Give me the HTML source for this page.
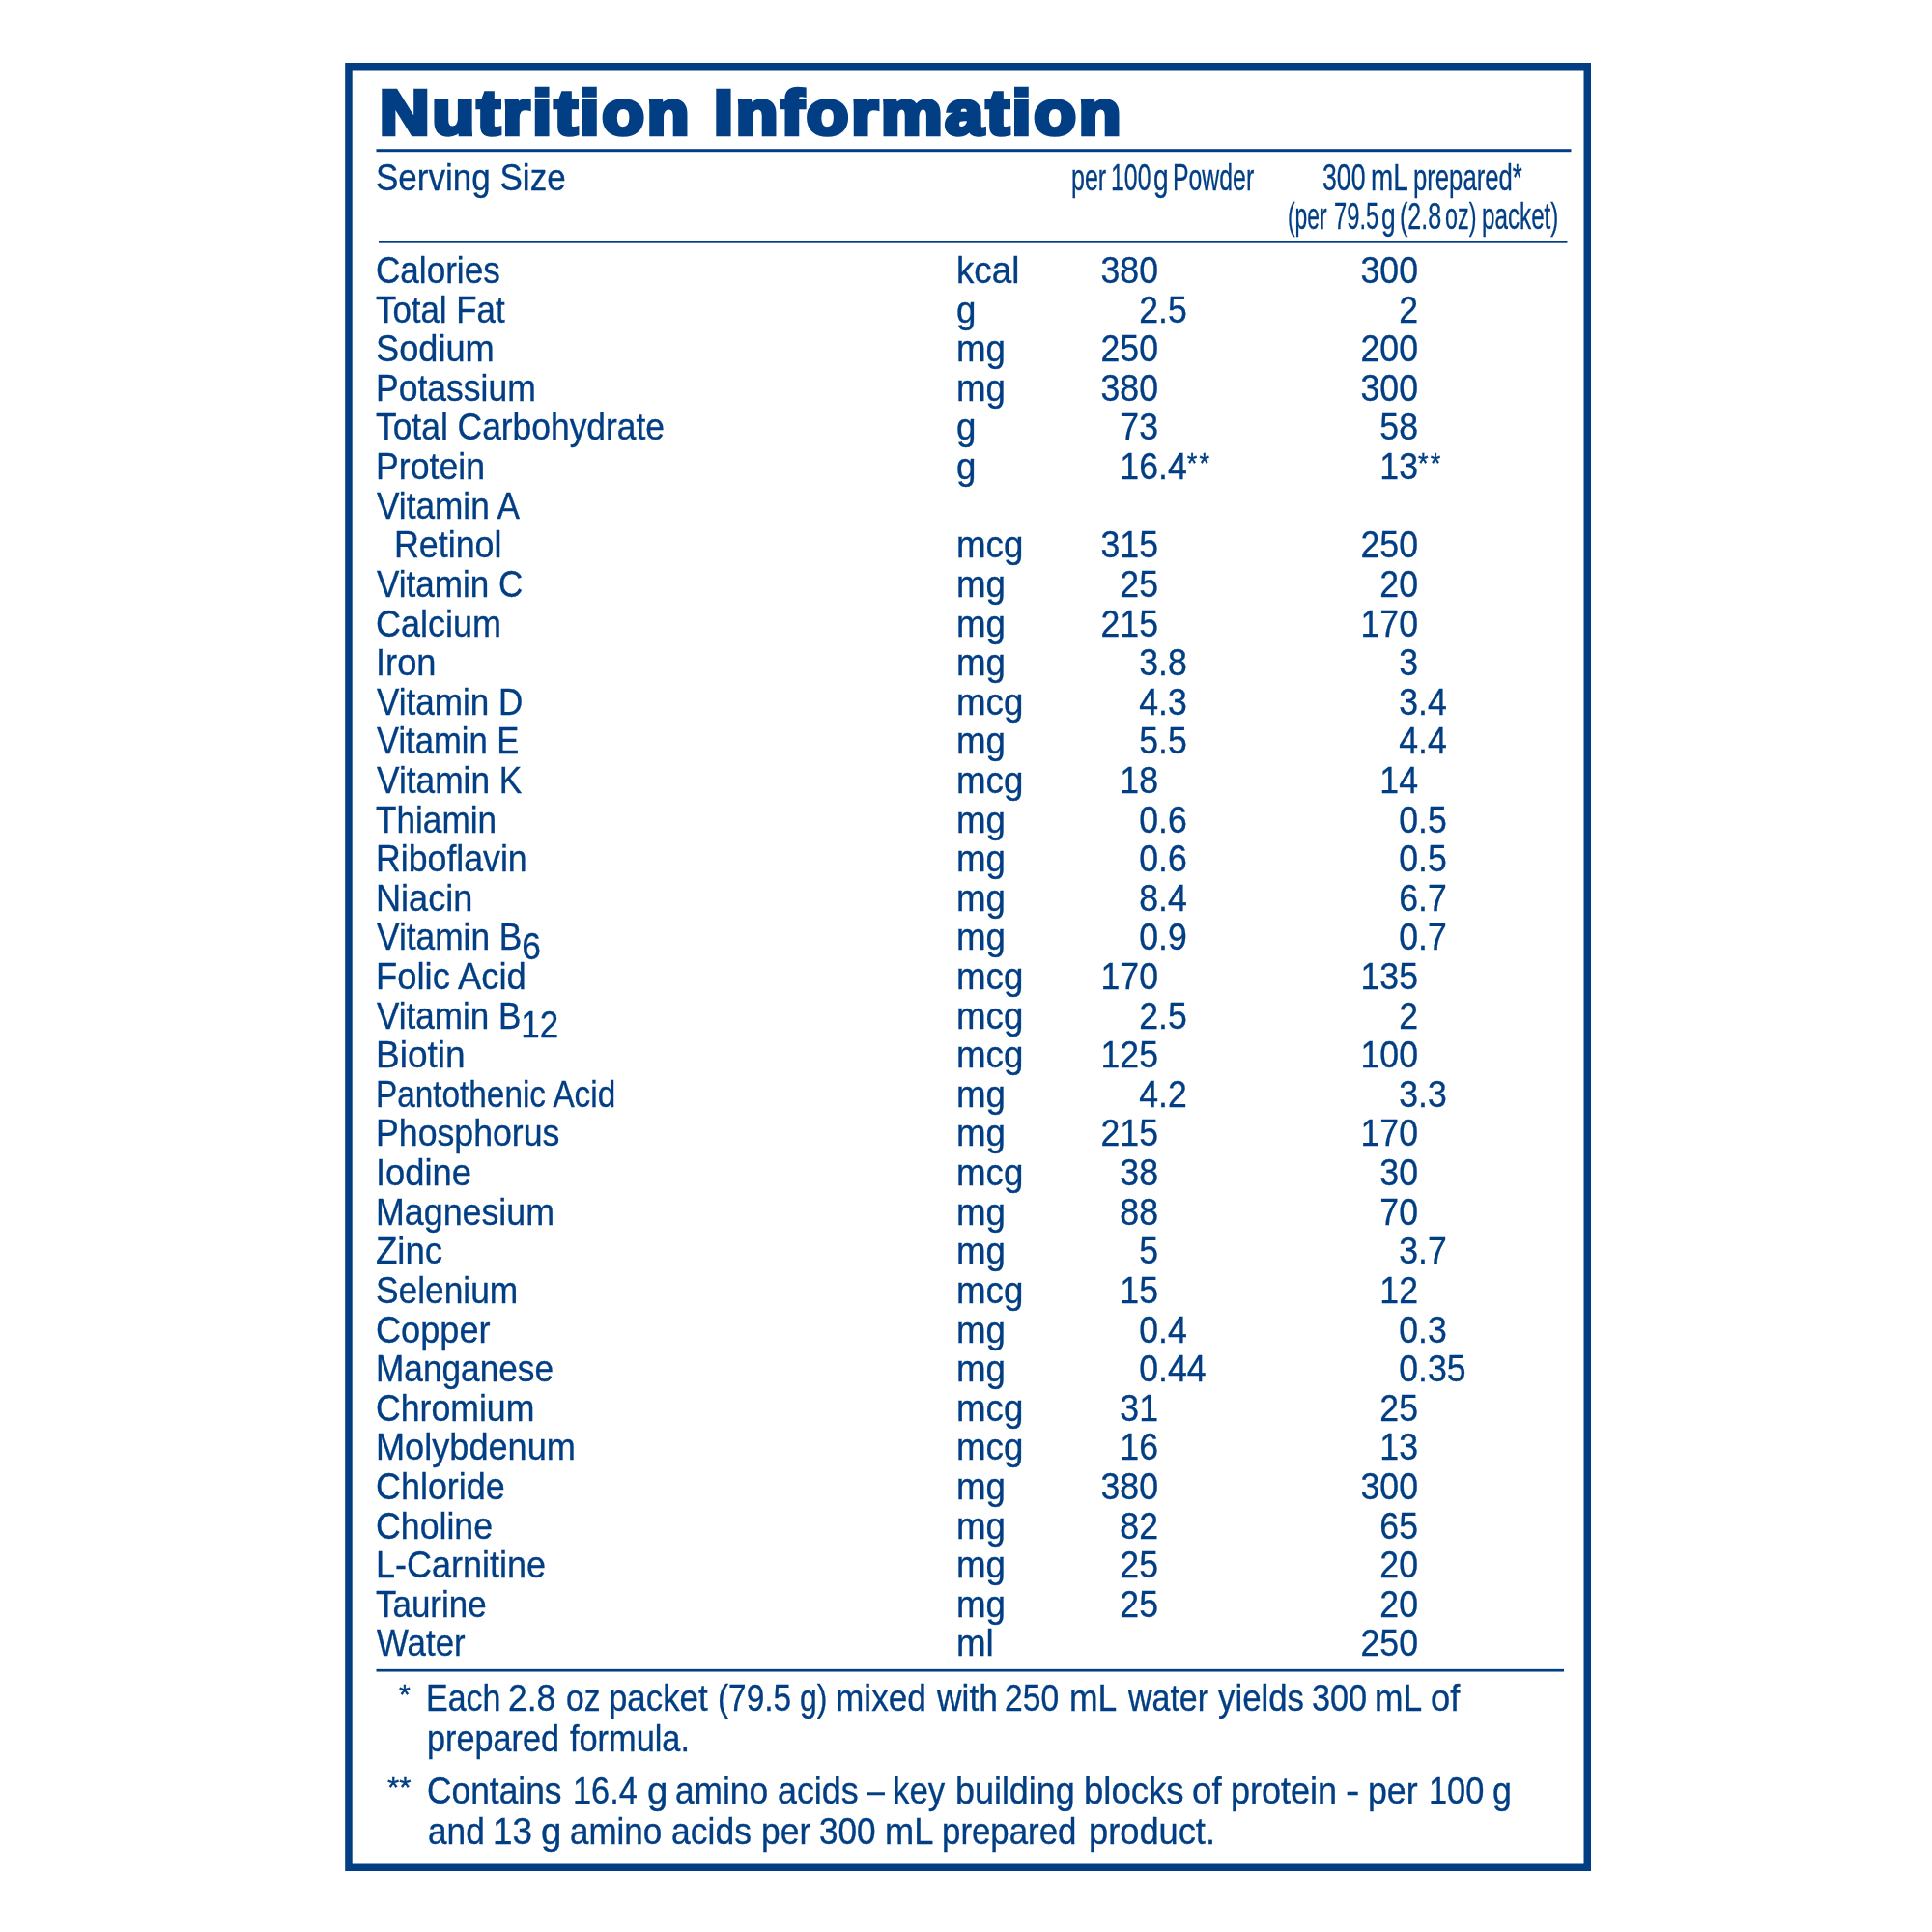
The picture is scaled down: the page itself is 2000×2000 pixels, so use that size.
<!DOCTYPE html>
<html><head><meta charset="utf-8"><title>Nutrition Information</title>
<style>
html,body{margin:0;padding:0;background:#fff}
body{width:2000px;height:2000px;position:relative;overflow:hidden;font-family:"Liberation Sans",sans-serif;color:#023e84}
.wr{position:absolute;left:0;top:0;width:2000px;height:2000px;will-change:transform}
.t,.n{position:absolute;white-space:nowrap;font-size:39.6px;line-height:40px;transform-origin:0 0;-webkit-text-stroke:0.35px #023e84}
.n{width:0;transform:scaleX(0.9)}
.n .i{position:absolute;right:0;top:0}
.n .r{position:absolute;left:0;top:0}
.sb{position:relative;top:9.3px}
.as{font-size:30.2px;position:relative;top:-6.5px}
.n .as{top:-7.5px;letter-spacing:2.5px}
.u{transform:scaleX(0.928)}
.h{font-size:39.6px}
.f{font-size:38.5px}
.ti{position:absolute;white-space:nowrap;font-weight:bold;font-size:65px;line-height:40px;transform-origin:0 0;transform:scaleX(1.1);-webkit-text-stroke:4.5px #023e84;letter-spacing:2.57px}
</style></head><body>
<svg width="2000" height="2000" style="position:absolute;left:0;top:0">
<rect x="360.95" y="68.75" width="1282.3" height="1864.5" fill="none" stroke="#023e84" stroke-width="7.5"/>
<rect x="389.5" y="154.2" width="1237.0" height="3" fill="#023e84"/>
<rect x="392" y="249.1" width="1230.5" height="2.6" fill="#023e84"/>
<rect x="389.5" y="1727.8500000000001" width="1229.5" height="2.7" fill="#023e84"/>
</svg>
<div class="wr">
<div class="ti" style="left:393px;top:97.2px">Nutrition Information</div>
<div class="t" style="left:389px;top:163.0px;transform:scaleX(0.885)">Serving Size</div>
<div class="t h w0" style="left:1108.96px;top:163.0px;transform:scaleX(0.6321)">per</div>
<div class="t h w1" style="left:1150.02px;top:163.0px;transform:scaleX(0.6277)">100</div>
<div class="t h w0" style="left:1193.97px;top:163.0px;transform:scaleX(0.7102)">g</div>
<div class="t h w1" style="left:1213.97px;top:163.0px;transform:scaleX(0.6273)">Powder</div>
<div class="t h w0" style="left:1368.92px;top:163.0px;transform:scaleX(0.6733)">300</div>
<div class="t h w1" style="left:1418.72px;top:163.0px;transform:scaleX(0.7041)">mL</div>
<div class="t h w0" style="left:1462.97px;top:163.0px;transform:scaleX(0.6489)">prepared*</div>
<div class="t h w1" style="left:1333.1px;top:203.2px;transform:scaleX(0.5758)">(per</div>
<div class="t h w0" style="left:1381.02px;top:203.2px;transform:scaleX(0.5999)">79.5</div>
<div class="t h w1" style="left:1429.77px;top:203.2px;transform:scaleX(0.6658)">g</div>
<div class="t h w0" style="left:1448.96px;top:203.2px;transform:scaleX(0.6336)">(2.8</div>
<div class="t h w1" style="left:1496.08px;top:203.2px;transform:scaleX(0.5906)">oz)</div>
<div class="t h w0" style="left:1534.02px;top:203.2px;transform:scaleX(0.6116)">packet)</div>
<div class="t" style="left:389px;top:259.0px;transform:scaleX(0.8864)">Calories</div>
<div class="t u" style="left:990px;top:259.0px">kcal</div>
<div class="n" style="left:1199px;top:259.0px"><span class="i">380</span><span class="r"></span></div>
<div class="n" style="left:1467.5px;top:259.0px"><span class="i">300</span><span class="r"></span></div>
<div class="t" style="left:389px;top:299.6px;transform:scaleX(0.8801)">Total Fat</div>
<div class="t u" style="left:990px;top:299.6px">g</div>
<div class="n" style="left:1199px;top:299.6px"><span class="i">2</span><span class="r">.5</span></div>
<div class="n" style="left:1467.5px;top:299.6px"><span class="i">2</span><span class="r"></span></div>
<div class="t" style="left:389px;top:340.2px;transform:scaleX(0.9147)">Sodium</div>
<div class="t u" style="left:990px;top:340.2px">mg</div>
<div class="n" style="left:1199px;top:340.2px"><span class="i">250</span><span class="r"></span></div>
<div class="n" style="left:1467.5px;top:340.2px"><span class="i">200</span><span class="r"></span></div>
<div class="t" style="left:389px;top:380.8px;transform:scaleX(0.8976)">Potassium</div>
<div class="t u" style="left:990px;top:380.8px">mg</div>
<div class="n" style="left:1199px;top:380.8px"><span class="i">380</span><span class="r"></span></div>
<div class="n" style="left:1467.5px;top:380.8px"><span class="i">300</span><span class="r"></span></div>
<div class="t" style="left:389px;top:421.4px;transform:scaleX(0.8941)">Total Carbohydrate</div>
<div class="t u" style="left:990px;top:421.4px">g</div>
<div class="n" style="left:1199px;top:421.4px"><span class="i">73</span><span class="r"></span></div>
<div class="n" style="left:1467.5px;top:421.4px"><span class="i">58</span><span class="r"></span></div>
<div class="t" style="left:389px;top:462.1px;transform:scaleX(0.9017)">Protein</div>
<div class="t u" style="left:990px;top:462.1px">g</div>
<div class="n" style="left:1199px;top:462.1px"><span class="i">16</span><span class="r">.4<span class=as>**</span></span></div>
<div class="n" style="left:1467.5px;top:462.1px"><span class="i">13</span><span class="r"><span class=as>**</span></span></div>
<div class="t" style="left:390.3px;top:502.7px;transform:scaleX(0.8892)">Vitamin A</div>
<div class="t" style="left:408px;top:543.3px;transform:scaleX(0.9048)">Retinol</div>
<div class="t u" style="left:990px;top:543.3px">mcg</div>
<div class="n" style="left:1199px;top:543.3px"><span class="i">315</span><span class="r"></span></div>
<div class="n" style="left:1467.5px;top:543.3px"><span class="i">250</span><span class="r"></span></div>
<div class="t" style="left:390.3px;top:583.9px;transform:scaleX(0.8858)">Vitamin C</div>
<div class="t u" style="left:990px;top:583.9px">mg</div>
<div class="n" style="left:1199px;top:583.9px"><span class="i">25</span><span class="r"></span></div>
<div class="n" style="left:1467.5px;top:583.9px"><span class="i">20</span><span class="r"></span></div>
<div class="t" style="left:389px;top:624.5px;transform:scaleX(0.9091)">Calcium</div>
<div class="t u" style="left:990px;top:624.5px">mg</div>
<div class="n" style="left:1199px;top:624.5px"><span class="i">215</span><span class="r"></span></div>
<div class="n" style="left:1467.5px;top:624.5px"><span class="i">170</span><span class="r"></span></div>
<div class="t" style="left:389px;top:665.1px;transform:scaleX(0.9172)">Iron</div>
<div class="t u" style="left:990px;top:665.1px">mg</div>
<div class="n" style="left:1199px;top:665.1px"><span class="i">3</span><span class="r">.8</span></div>
<div class="n" style="left:1467.5px;top:665.1px"><span class="i">3</span><span class="r"></span></div>
<div class="t" style="left:390.3px;top:705.7px;transform:scaleX(0.8858)">Vitamin D</div>
<div class="t u" style="left:990px;top:705.7px">mcg</div>
<div class="n" style="left:1199px;top:705.7px"><span class="i">4</span><span class="r">.3</span></div>
<div class="n" style="left:1467.5px;top:705.7px"><span class="i">3</span><span class="r">.4</span></div>
<div class="t" style="left:390.3px;top:746.3px;transform:scaleX(0.8736)">Vitamin E</div>
<div class="t u" style="left:990px;top:746.3px">mg</div>
<div class="n" style="left:1199px;top:746.3px"><span class="i">5</span><span class="r">.5</span></div>
<div class="n" style="left:1467.5px;top:746.3px"><span class="i">4</span><span class="r">.4</span></div>
<div class="t" style="left:390.3px;top:786.9px;transform:scaleX(0.8915)">Vitamin K</div>
<div class="t u" style="left:990px;top:786.9px">mcg</div>
<div class="n" style="left:1199px;top:786.9px"><span class="i">18</span><span class="r"></span></div>
<div class="n" style="left:1467.5px;top:786.9px"><span class="i">14</span><span class="r"></span></div>
<div class="t" style="left:389px;top:827.5px;transform:scaleX(0.8882)">Thiamin</div>
<div class="t u" style="left:990px;top:827.5px">mg</div>
<div class="n" style="left:1199px;top:827.5px"><span class="i">0</span><span class="r">.6</span></div>
<div class="n" style="left:1467.5px;top:827.5px"><span class="i">0</span><span class="r">.5</span></div>
<div class="t" style="left:389px;top:868.1px;transform:scaleX(0.9017)">Riboflavin</div>
<div class="t u" style="left:990px;top:868.1px">mg</div>
<div class="n" style="left:1199px;top:868.1px"><span class="i">0</span><span class="r">.6</span></div>
<div class="n" style="left:1467.5px;top:868.1px"><span class="i">0</span><span class="r">.5</span></div>
<div class="t" style="left:389px;top:908.8px;transform:scaleX(0.9121)">Niacin</div>
<div class="t u" style="left:990px;top:908.8px">mg</div>
<div class="n" style="left:1199px;top:908.8px"><span class="i">8</span><span class="r">.4</span></div>
<div class="n" style="left:1467.5px;top:908.8px"><span class="i">6</span><span class="r">.7</span></div>
<div class="t" style="left:390.3px;top:949.4px;transform:scaleX(0.8916)">Vitamin B<span class=sb>6</span></div>
<div class="t u" style="left:990px;top:949.4px">mg</div>
<div class="n" style="left:1199px;top:949.4px"><span class="i">0</span><span class="r">.9</span></div>
<div class="n" style="left:1467.5px;top:949.4px"><span class="i">0</span><span class="r">.7</span></div>
<div class="t" style="left:389px;top:990.0px;transform:scaleX(0.9193)">Folic Acid</div>
<div class="t u" style="left:990px;top:990.0px">mcg</div>
<div class="n" style="left:1199px;top:990.0px"><span class="i">170</span><span class="r"></span></div>
<div class="n" style="left:1467.5px;top:990.0px"><span class="i">135</span><span class="r"></span></div>
<div class="t" style="left:390.3px;top:1030.6px;transform:scaleX(0.8850)">Vitamin B<span class=sb>12</span></div>
<div class="t u" style="left:990px;top:1030.6px">mcg</div>
<div class="n" style="left:1199px;top:1030.6px"><span class="i">2</span><span class="r">.5</span></div>
<div class="n" style="left:1467.5px;top:1030.6px"><span class="i">2</span><span class="r"></span></div>
<div class="t" style="left:389px;top:1071.2px;transform:scaleX(0.9359)">Biotin</div>
<div class="t u" style="left:990px;top:1071.2px">mcg</div>
<div class="n" style="left:1199px;top:1071.2px"><span class="i">125</span><span class="r"></span></div>
<div class="n" style="left:1467.5px;top:1071.2px"><span class="i">100</span><span class="r"></span></div>
<div class="t" style="left:389px;top:1111.8px;transform:scaleX(0.8418)">Pantothenic Acid</div>
<div class="t u" style="left:990px;top:1111.8px">mg</div>
<div class="n" style="left:1199px;top:1111.8px"><span class="i">4</span><span class="r">.2</span></div>
<div class="n" style="left:1467.5px;top:1111.8px"><span class="i">3</span><span class="r">.3</span></div>
<div class="t" style="left:389px;top:1152.4px;transform:scaleX(0.9016)">Phosphorus</div>
<div class="t u" style="left:990px;top:1152.4px">mg</div>
<div class="n" style="left:1199px;top:1152.4px"><span class="i">215</span><span class="r"></span></div>
<div class="n" style="left:1467.5px;top:1152.4px"><span class="i">170</span><span class="r"></span></div>
<div class="t" style="left:389px;top:1193.0px;transform:scaleX(0.9180)">Iodine</div>
<div class="t u" style="left:990px;top:1193.0px">mcg</div>
<div class="n" style="left:1199px;top:1193.0px"><span class="i">38</span><span class="r"></span></div>
<div class="n" style="left:1467.5px;top:1193.0px"><span class="i">30</span><span class="r"></span></div>
<div class="t" style="left:389px;top:1233.6px;transform:scaleX(0.9046)">Magnesium</div>
<div class="t u" style="left:990px;top:1233.6px">mg</div>
<div class="n" style="left:1199px;top:1233.6px"><span class="i">88</span><span class="r"></span></div>
<div class="n" style="left:1467.5px;top:1233.6px"><span class="i">70</span><span class="r"></span></div>
<div class="t" style="left:389px;top:1274.2px;transform:scaleX(0.9253)">Zinc</div>
<div class="t u" style="left:990px;top:1274.2px">mg</div>
<div class="n" style="left:1199px;top:1274.2px"><span class="i">5</span><span class="r"></span></div>
<div class="n" style="left:1467.5px;top:1274.2px"><span class="i">3</span><span class="r">.7</span></div>
<div class="t" style="left:389px;top:1314.9px;transform:scaleX(0.8926)">Selenium</div>
<div class="t u" style="left:990px;top:1314.9px">mcg</div>
<div class="n" style="left:1199px;top:1314.9px"><span class="i">15</span><span class="r"></span></div>
<div class="n" style="left:1467.5px;top:1314.9px"><span class="i">12</span><span class="r"></span></div>
<div class="t" style="left:389px;top:1355.5px;transform:scaleX(0.9133)">Copper</div>
<div class="t u" style="left:990px;top:1355.5px">mg</div>
<div class="n" style="left:1199px;top:1355.5px"><span class="i">0</span><span class="r">.4</span></div>
<div class="n" style="left:1467.5px;top:1355.5px"><span class="i">0</span><span class="r">.3</span></div>
<div class="t" style="left:389px;top:1396.1px;transform:scaleX(0.8895)">Manganese</div>
<div class="t u" style="left:990px;top:1396.1px">mg</div>
<div class="n" style="left:1199px;top:1396.1px"><span class="i">0</span><span class="r">.44</span></div>
<div class="n" style="left:1467.5px;top:1396.1px"><span class="i">0</span><span class="r">.35</span></div>
<div class="t" style="left:389px;top:1436.7px;transform:scaleX(0.9004)">Chromium</div>
<div class="t u" style="left:990px;top:1436.7px">mcg</div>
<div class="n" style="left:1199px;top:1436.7px"><span class="i">31</span><span class="r"></span></div>
<div class="n" style="left:1467.5px;top:1436.7px"><span class="i">25</span><span class="r"></span></div>
<div class="t" style="left:389px;top:1477.3px;transform:scaleX(0.9132)">Molybdenum</div>
<div class="t u" style="left:990px;top:1477.3px">mcg</div>
<div class="n" style="left:1199px;top:1477.3px"><span class="i">16</span><span class="r"></span></div>
<div class="n" style="left:1467.5px;top:1477.3px"><span class="i">13</span><span class="r"></span></div>
<div class="t" style="left:389px;top:1517.9px;transform:scaleX(0.9073)">Chloride</div>
<div class="t u" style="left:990px;top:1517.9px">mg</div>
<div class="n" style="left:1199px;top:1517.9px"><span class="i">380</span><span class="r"></span></div>
<div class="n" style="left:1467.5px;top:1517.9px"><span class="i">300</span><span class="r"></span></div>
<div class="t" style="left:389px;top:1558.5px;transform:scaleX(0.9018)">Choline</div>
<div class="t u" style="left:990px;top:1558.5px">mg</div>
<div class="n" style="left:1199px;top:1558.5px"><span class="i">82</span><span class="r"></span></div>
<div class="n" style="left:1467.5px;top:1558.5px"><span class="i">65</span><span class="r"></span></div>
<div class="t" style="left:389px;top:1599.1px;transform:scaleX(0.9091)">L-Carnitine</div>
<div class="t u" style="left:990px;top:1599.1px">mg</div>
<div class="n" style="left:1199px;top:1599.1px"><span class="i">25</span><span class="r"></span></div>
<div class="n" style="left:1467.5px;top:1599.1px"><span class="i">20</span><span class="r"></span></div>
<div class="t" style="left:389px;top:1639.7px;transform:scaleX(0.8827)">Taurine</div>
<div class="t u" style="left:990px;top:1639.7px">mg</div>
<div class="n" style="left:1199px;top:1639.7px"><span class="i">25</span><span class="r"></span></div>
<div class="n" style="left:1467.5px;top:1639.7px"><span class="i">20</span><span class="r"></span></div>
<div class="t" style="left:390.3px;top:1680.3px;transform:scaleX(0.8803)">Water</div>
<div class="t u" style="left:990px;top:1680.3px">ml</div>
<div class="n" style="left:1467.5px;top:1680.3px"><span class="i">250</span><span class="r"></span></div>
<div class="t f w0" style="left:413.24px;top:1737.9px;transform:scaleX(1.0055)"><span class=as>*</span></div>
<div class="t f w1" style="left:400.98px;top:1833.5px;transform:scaleX(1.0455)"><span class=as>**</span></div>
<div class="t f w0" style="left:440.61px;top:1738.0px;transform:scaleX(0.8820)">Each</div>
<div class="t f w1" style="left:526.48px;top:1738.0px;transform:scaleX(0.9205)">2.8</div>
<div class="t f w0" style="left:585.53px;top:1738.0px;transform:scaleX(0.8718)">oz</div>
<div class="t f w1" style="left:629.53px;top:1738.0px;transform:scaleX(0.9046)">packet</div>
<div class="t f w0" style="left:742.57px;top:1738.0px;transform:scaleX(0.8669)">(79.5</div>
<div class="t f w1" style="left:827.62px;top:1738.0px;transform:scaleX(0.8288)">g)</div>
<div class="t f w0" style="left:865.48px;top:1738.0px;transform:scaleX(0.9143)">mixed</div>
<div class="t f w1" style="left:969.5px;top:1738.0px;transform:scaleX(0.9180)">with</div>
<div class="t f w0" style="left:1039.56px;top:1738.0px;transform:scaleX(0.8738)">250</div>
<div class="t f w1" style="left:1107.45px;top:1738.0px;transform:scaleX(0.9208)">mL</div>
<div class="t f w0" style="left:1167.51px;top:1738.0px;transform:scaleX(0.8820)">water</div>
<div class="t f w1" style="left:1260.5px;top:1738.0px;transform:scaleX(0.9040)">yields</div>
<div class="t f w0" style="left:1357.55px;top:1738.0px;transform:scaleX(0.8889)">300</div>
<div class="t f w1" style="left:1423.45px;top:1738.0px;transform:scaleX(0.9191)">mL</div>
<div class="t f w0" style="left:1481.41px;top:1738.0px;transform:scaleX(0.9421)">of</div>
<div class="t f w1" style="left:441.56px;top:1780.2px;transform:scaleX(0.8885)">prepared</div>
<div class="t f w0" style="left:589.5px;top:1780.2px;transform:scaleX(0.8915)">formula.</div>
<div class="t f w1" style="left:442.46px;top:1833.5px;transform:scaleX(0.9183)">Contains</div>
<div class="t f w0" style="left:592.57px;top:1833.5px;transform:scaleX(0.8903)">16.4</div>
<div class="t f w1" style="left:670.15px;top:1833.5px;transform:scaleX(0.9970)">g</div>
<div class="t f w0" style="left:699.47px;top:1833.5px;transform:scaleX(0.9163)">amino</div>
<div class="t f w1" style="left:805.42px;top:1833.5px;transform:scaleX(0.9312)">acids</div>
<div class="t f w0" style="left:897.5px;top:1833.5px;transform:scaleX(0.8359)">–</div>
<div class="t f w1" style="left:924.49px;top:1833.5px;transform:scaleX(0.9054)">key</div>
<div class="t f w0" style="left:989.46px;top:1833.5px;transform:scaleX(0.9323)">building</div>
<div class="t f w1" style="left:1122.43px;top:1833.5px;transform:scaleX(0.9489)">blocks</div>
<div class="t f w0" style="left:1234.39px;top:1833.5px;transform:scaleX(0.9531)">of</div>
<div class="t f w1" style="left:1274.46px;top:1833.5px;transform:scaleX(0.9351)">protein</div>
<div class="t f w0" style="left:1392.86px;top:1833.5px;transform:scaleX(1.1235)">-</div>
<div class="t f w1" style="left:1416.49px;top:1833.5px;transform:scaleX(0.9273)">per</div>
<div class="t f w0" style="left:1478.52px;top:1833.5px;transform:scaleX(0.8922)">100</div>
<div class="t f w1" style="left:1545.43px;top:1833.5px;transform:scaleX(0.9304)">g</div>
<div class="t f w0" style="left:443.43px;top:1875.7px;transform:scaleX(0.9158)">and</div>
<div class="t f w1" style="left:510.33px;top:1875.7px;transform:scaleX(0.9563)">13</div>
<div class="t f w0" style="left:560.18px;top:1875.7px;transform:scaleX(0.9970)">g</div>
<div class="t f w1" style="left:589.52px;top:1875.7px;transform:scaleX(0.9083)">amino</div>
<div class="t f w0" style="left:695.45px;top:1875.7px;transform:scaleX(0.9221)">acids</div>
<div class="t f w1" style="left:788.45px;top:1875.7px;transform:scaleX(0.9218)">per</div>
<div class="t f w0" style="left:848.48px;top:1875.7px;transform:scaleX(0.9122)">300</div>
<div class="t f w1" style="left:916.41px;top:1875.7px;transform:scaleX(0.9405)">mL</div>
<div class="t f w0" style="left:975.49px;top:1875.7px;transform:scaleX(0.9050)">prepared</div>
<div class="t f w1" style="left:1127.4px;top:1875.7px;transform:scaleX(0.9418)">product.</div>
</div>
</body></html>
